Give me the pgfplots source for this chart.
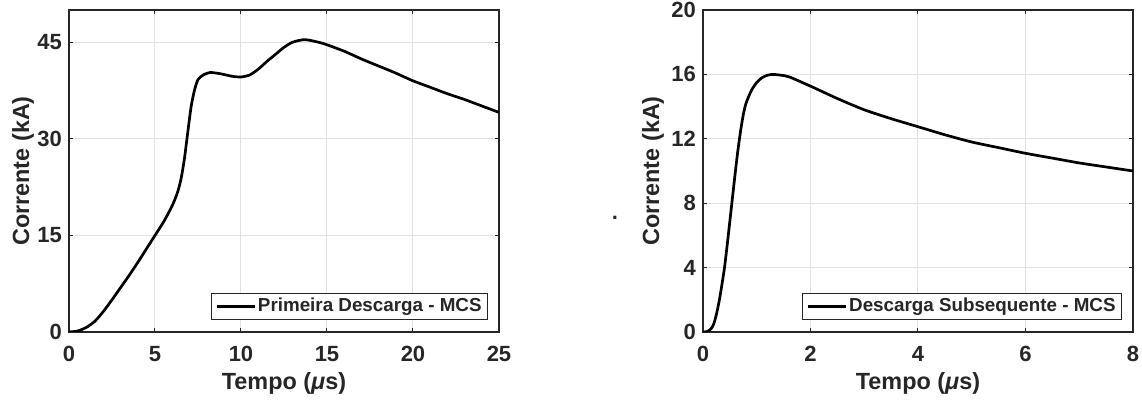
\documentclass[border=0pt]{standalone}
\usepackage{fontspec}
\setmainfont{Liberation Sans}
\usepackage{pgfplots}
\pgfplotsset{compat=1.18}
\definecolor{txt}{HTML}{262626}
\definecolor{gridc}{HTML}{E2E2E2}
\pgfplotsset{mcs/.style={
  scale only axis, width=215pt, height=161pt, anchor=south west,
  axis line style={draw=txt, line width=0.6pt},
  every tick/.style={draw=txt, line width=0.5pt},
  tick align=inside, major tick length=2pt,
  grid=major, major grid style={draw=gridc, line width=0.5pt},
  /pgf/number format/assume math mode=true,
  ticklabel style={font=\fontsize{11pt}{13pt}\selectfont\bfseries, text=txt},
  xticklabel style={anchor=base, yshift=-15pt},
  label style={font=\fontsize{11.7pt}{14pt}\selectfont\bfseries, text=txt},
  xlabel style={at={(axis description cs:0.5,-0.1801)}, anchor=base},
  legend style={at={(1,0)}, anchor=south east, xshift=-5.5pt, yshift=6pt,
    draw=txt, fill=white,
    font=\fontsize{9.4pt}{11pt}\selectfont\bfseries,
    inner xsep=2pt, inner ysep=1.4pt, nodes={inner sep=1pt, text=txt}},
  legend image code/.code={\draw[#1] (0pt,0pt) -- (19pt,0pt);},
  cycle list={{black, no markers}},
}}
\begin{document}
\begin{tikzpicture}
\path[use as bounding box] (0,0) rectangle (571pt,200pt);
\begin{axis}[mcs, at={(34.5pt,34pt)},
  xmin=0, xmax=25, ymin=0, ymax=50,
  xtick={0,5,10,15,20,25}, ytick={0,15,30,45},
  ylabel style={at={(axis description cs:-0.093,0.5)}, anchor=base},
  xlabel={Tempo ({\itshape μ}s)}, ylabel={Corrente (kA)}]
\addplot+[line width=1.35pt, smooth, tension=0.4] coordinates {
(0,0) (0.5,0.15) (1.0,0.7) (1.5,1.65) (2.0,3.2) (2.5,5.0) (3.0,6.9) (3.5,8.8)
(4.0,10.8) (4.5,12.9) (5.0,15.0) (5.5,17.1) (6.0,19.6) (6.3,21.6) (6.5,23.6)
(6.7,26.7) (6.9,30.9) (7.1,35.0) (7.3,37.6) (7.5,39.2) (7.8,39.9) (8.2,40.3)
(8.8,40.1) (9.5,39.7) (10.0,39.6) (10.5,39.9) (11.0,40.8) (11.5,42.0) (12.0,43.1)
(12.5,44.2) (13.0,45.0) (13.7,45.4) (14.5,45.0) (15.0,44.6) (16.0,43.6) (17.0,42.4)
(18.0,41.3) (19.0,40.2) (20.0,39.0) (21.0,38.0) (22.0,37.0) (23.0,36.1) (24.0,35.1)
(25.0,34.1)};
\addlegendentry{Primeira Descarga - MCS}
\end{axis}
\node[font=\fontsize{11pt}{13pt}\selectfont\bfseries, text=txt, anchor=base, inner sep=0pt] at (307.5pt,90.3pt) {.};
\begin{axis}[mcs, at={(351.5pt,34pt)},
  xmin=0, xmax=8, ymin=0, ymax=20,
  xtick={0,2,4,6,8}, ytick={0,4,8,12,16,20},
  ylabel style={at={(axis description cs:-0.102,0.5)}, anchor=base},
  xlabel={Tempo ({\itshape μ}s)}, ylabel={Corrente (kA)}]
\addplot+[line width=1.35pt, smooth, tension=0.4] coordinates {
(0,0) (0.08,0.03) (0.15,0.2) (0.2,0.5) (0.25,1.1) (0.3,1.9) (0.35,2.9) (0.4,4.0)
(0.45,5.4) (0.5,6.9) (0.55,8.4) (0.6,9.9) (0.65,11.3) (0.7,12.5) (0.75,13.5)
(0.8,14.2) (0.9,15.0) (1.0,15.5) (1.1,15.8) (1.2,15.95) (1.3,16.0) (1.45,15.95)
(1.6,15.85) (2.0,15.27) (2.5,14.5) (3.0,13.8) (3.5,13.25)
(4.0,12.75) (4.5,12.25) (5.0,11.8) (5.5,11.45) (6.0,11.1) (6.5,10.8) (7.0,10.5)
(7.5,10.25) (8.0,10.0)};
\addlegendentry{Descarga Subsequente - MCS}
\end{axis}
\end{tikzpicture}
\end{document}
